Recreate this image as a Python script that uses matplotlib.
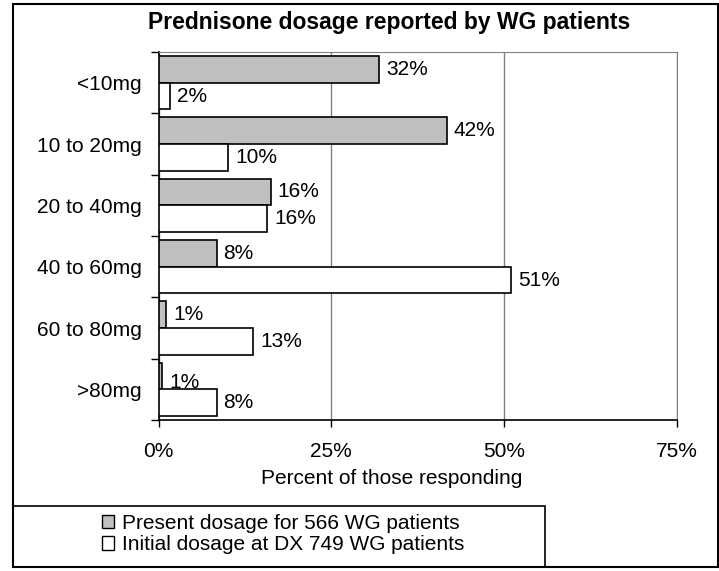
import matplotlib.pyplot as plt
from matplotlib.patches import Rectangle, Patch
import numpy as np

plt.rcParams['font.family'] = ['Liberation Sans', 'DejaVu Sans']

# values (bar lengths in percent)
categories = ['<10mg', '10 to 20mg', '20 to 40mg', '40 to 60mg', '60 to 80mg', '>80mg']
present = [31.9, 41.7, 16.2, 8.4, 1.1, 0.5]
initial = [1.7, 10.1, 15.7, 51.0, 13.7, 8.4]
present_labels = ['32%', '42%', '16%', '8%', '1%', '1%']
initial_labels = ['2%', '10%', '16%', '51%', '13%', '8%']
xticks = [0, 25, 50, 75]

W, H = 719, 571
fs = 15
fig = plt.figure(figsize=(W / 100, H / 100), dpi=100)
ax = fig.add_axes([158.7 / W, 1 - 420 / H, 518 / W, 368 / H])

y = np.arange(len(categories))
h = 0.435
ax.barh(y - h / 2, present, height=h, color='#c0c0c0', edgecolor='black', linewidth=1.2, zorder=3)
ax.barh(y + h / 2, initial, height=h, color='white', edgecolor='black', linewidth=1.2, zorder=5)

# data labels (drawn under the white bars, as in the original)
for i in range(len(categories)):
    # the last gray label sits a bit low in the original and is partly hidden
    dy = 0.11 if i == len(categories) - 1 else 0
    ax.text(present[i] + 1.0, y[i] - h / 2 + dy, present_labels[i], va='center', ha='left',
            fontsize=fs, zorder=4)
    ax.text(initial[i] + 1.0, y[i] + h / 2, initial_labels[i], va='center', ha='left',
            fontsize=fs, zorder=4)

ax.set_xlim(0, 75)
ax.set_ylim(len(categories) - 0.5, -0.5)
ax.set_xticks(xticks)
ax.set_xticklabels([f'{t}%' for t in xticks], fontsize=fs)
ax.tick_params(axis='x', direction='out', length=5, width=1, pad=10.5)
ax.set_yticks(np.arange(len(categories) + 1) - 0.5)
ax.set_yticklabels([])
ax.set_yticks(y, minor=True)
ax.set_yticklabels(categories, minor=True, fontsize=fs)
ax.tick_params(axis='y', which='major', direction='out', length=6, width=1)
ax.tick_params(axis='y', which='minor', length=0, pad=12)
ax.grid(axis='x', color='#808080', linewidth=1, zorder=0)
ax.set_axisbelow(True)

for s in ['top', 'right']:
    ax.spines[s].set_color('#808080')
for s in ['left', 'bottom']:
    ax.spines[s].set_color('black')
    ax.spines[s].set_linewidth(1.2)

ax.set_xlabel('Percent of those responding', fontsize=fs)
ax.xaxis.label.set_verticalalignment('center')
ax.xaxis.set_label_coords((392 - 158.7) / 518, -(479 - 420) / 368)
fig.text(389 / W, 1 - 23 / H, 'Prednisone dosage reported by WG patients',
         ha='center', va='center', fontsize=16.5, fontweight='bold')

# outer border and legend box
fig.patches.append(Rectangle((13 / W, 1 - 567 / H), 705 / W, 563 / H, transform=fig.transFigure,
                             fill=False, edgecolor='black', linewidth=1.5))
fig.patches.append(Rectangle((13 / W, 1 - 567 / H), 532 / W, 61 / H, transform=fig.transFigure,
                             fill=False, edgecolor='black', linewidth=1.2))
handles = [Patch(facecolor='#c0c0c0', edgecolor='black'),
           Patch(facecolor='white', edgecolor='black')]
fig.legend(handles, ['Present dosage for 566 WG patients', 'Initial dosage at DX 749 WG patients'],
           loc='center', bbox_to_anchor=(283 / W, 1 - 534 / H), frameon=False, fontsize=fs,
           handlelength=0.6, handleheight=0.6, handletextpad=0.35, labelspacing=0.12,
           borderpad=0)

fig.savefig('out.png', dpi=100)
